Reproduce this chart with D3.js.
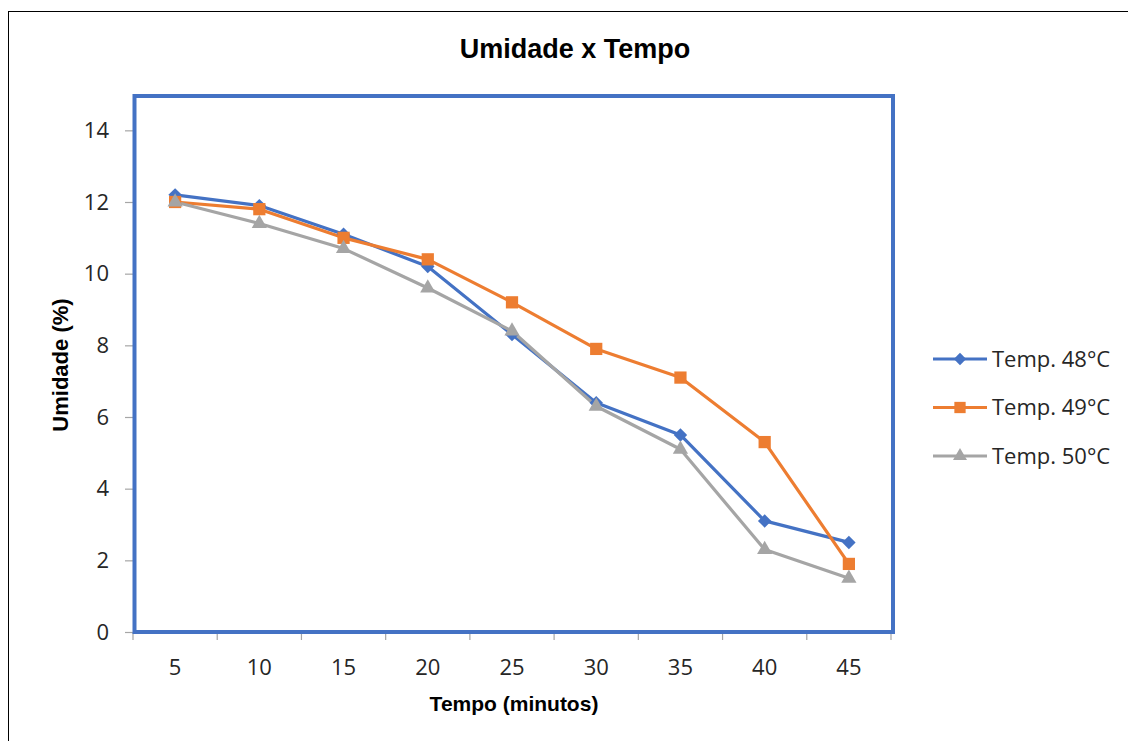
<!DOCTYPE html>
<html>
<head>
<meta charset="utf-8">
<script src="https://cdn.jsdelivr.net/npm/d3@7"></script>
<style>
  body { margin: 0; background: #fff; }
  svg { display: block; }
</style>
</head>
<body>
<div id="chart"></div>
<script>
// Data
const tempos = ["5", "10", "15", "20", "25", "30", "35", "40", "45"];
const temp48 = [12.2, 11.9, 11.1, 10.2, 8.3, 6.4, 5.5, 3.1, 2.5];
const temp49 = [12.0, 11.8, 11.0, 10.4, 9.2, 7.9, 7.1, 5.3, 1.9];
const temp50 = [12.0, 11.4, 10.7, 9.6, 8.4, 6.3, 5.1, 2.3, 1.5];
const seriesNames = ["Temp. 48°C", "Temp. 49°C", "Temp. 50°C"];
const yTicks = [0, 2, 4, 6, 8, 10, 12, 14];

const plotLineChart = (svgElemId) => {
   const svgWidth = 1128;
   const svgHeight = 741;
   const plot = { left: 133, right: 891, top: 94.5, bottom: 632 };

   // diamond drawn as a square turned 45 degrees (Excel style, as wide as tall)
   const series = [
      { name: seriesNames[0], values: temp48, color: "#4472C4", symbol: d3.symbolSquare, size: 90, rot: 45 },
      { name: seriesNames[1], values: temp49, color: "#ED7D31", symbol: d3.symbolSquare, size: 150, rot: 0 },
      { name: seriesNames[2], values: temp50, color: "#A5A5A5", symbol: d3.symbolTriangle, size: 100, rot: 0 }
   ];

   const svg = d3.select(svgElemId)
                 .append("svg")
                 .attr("width", svgWidth)
                 .attr("height", svgHeight);

   // outer chart border (runs off the picture on right and bottom)
   svg.append("rect")
      .attr("x", 8.5).attr("y", 11.5)
      .attr("width", 1200).attr("height", 800)
      .attr("fill", "none").attr("stroke", "#000").attr("stroke-width", 1);

   // **Scales
   const x = d3.scaleBand()
               .domain(tempos)
               .range([plot.left, plot.right]);
   const y = d3.scaleLinear()
               .domain([0, 15])
               .range([plot.bottom, plot.top]);
   const cx = (c) => x(c) + x.bandwidth() / 2;

   // **Y axis
   const yAxis = d3.axisLeft(y).tickValues(yTicks).tickSize(8).tickPadding(16);
   const gY = svg.append("g")
                 .attr("transform", `translate(${plot.left}, 0)`)
                 .call(yAxis);
   gY.select(".domain").remove();
   gY.selectAll(".tick line").attr("stroke", "#A6A6A6").attr("stroke-width", 1.2);
   gY.selectAll(".tick text")
     .attr("fill", "#262626")
     .style("font-family", "'Open Sans', sans-serif")
     .style("font-size", "22px");

   // **X axis (labels at band centres, tick marks at band edges)
   const xAxis = d3.axisBottom(x).tickSize(0).tickPadding(27);
   const gX = svg.append("g")
                 .attr("transform", `translate(0, ${plot.bottom})`)
                 .call(xAxis);
   gX.select(".domain").remove();
   gX.selectAll(".tick text")
     .attr("fill", "#262626")
     .style("font-family", "'Open Sans', sans-serif")
     .style("font-size", "22px");
   const edges = tempos.map((c) => x(c)).concat([x.range()[1]]);
   svg.append("g")
      .selectAll("line")
      .data(edges)
      .enter()
      .append("line")
      .attr("x1", (d) => d).attr("x2", (d) => d)
      .attr("y1", plot.bottom).attr("y2", plot.bottom + 8)
      .attr("stroke", "#A6A6A6").attr("stroke-width", 1.2);

   // **Plot area border (blue)
   svg.append("rect")
      .attr("x", plot.left + 1.5)
      .attr("y", y(15) + 1.5)
      .attr("width", plot.right - plot.left + 0.5)
      .attr("height", plot.bottom - y(15) - 1.5)
      .attr("fill", "none")
      .attr("stroke", "#4472C4")
      .attr("stroke-width", 4);

   // **Lines + markers
   const line = d3.line()
                  .x((d, i) => cx(tempos[i]))
                  .y((d) => y(d));
   series.forEach((s) => {
      svg.append("path")
         .datum(s.values)
         .attr("d", line)
         .attr("fill", "none")
         .attr("stroke", s.color)
         .attr("stroke-width", 3.2)
         .attr("stroke-linejoin", "round");
   });
   series.forEach((s) => {
      svg.append("g")
         .selectAll("path")
         .data(s.values)
         .enter()
         .append("path")
         .attr("d", d3.symbol().type(s.symbol).size(s.size))
         .attr("transform", (d, i) => `translate(${cx(tempos[i])}, ${y(d)}) rotate(${s.rot})`)
         .attr("fill", s.color);
   });

   // **Titles
   svg.append("text")
      .attr("x", 575).attr("y", 58)
      .attr("text-anchor", "middle")
      .style("font-family", "'Liberation Sans', Arial, sans-serif")
      .style("font-weight", "bold")
      .style("font-size", "27px")
      .attr("fill", "#000")
      .text("Umidade x Tempo");

   svg.append("text")
      .attr("x", 514).attr("y", 711)
      .attr("text-anchor", "middle")
      .style("font-family", "'Liberation Sans', Arial, sans-serif")
      .style("font-weight", "bold")
      .style("font-size", "21px")
      .attr("fill", "#000")
      .text("Tempo (minutos)");

   svg.append("text")
      .attr("transform", "translate(68, 365) rotate(-90)")
      .attr("text-anchor", "middle")
      .style("font-family", "'Liberation Sans', Arial, sans-serif")
      .style("font-weight", "bold")
      .style("font-size", "22px")
      .attr("fill", "#000")
      .text("Umidade (%)");

   // **Legend
   const legend = svg.append("g")
                     .selectAll("g")
                     .data(series)
                     .enter()
                     .append("g")
                     .attr("transform", (d, i) => `translate(933, ${359 + i * 48.5})`);
   legend.append("line")
         .attr("x1", 0).attr("x2", 54)
         .attr("stroke", (d) => d.color)
         .attr("stroke-width", 3.2);
   legend.append("path")
         .attr("d", (d) => d3.symbol().type(d.symbol).size(d.size * 0.85)())
         .attr("transform", (d) => `translate(27, 0) rotate(${d.rot})`)
         .attr("fill", (d) => d.color);
   legend.append("text")
         .attr("x", 59).attr("dy", "0.36em")
         .style("font-family", "'Open Sans', sans-serif")
         .style("font-size", "22px")
         .attr("fill", "#262626")
         .text((d) => d.name);
};

plotLineChart("#chart");
</script>
</body>
</html>
